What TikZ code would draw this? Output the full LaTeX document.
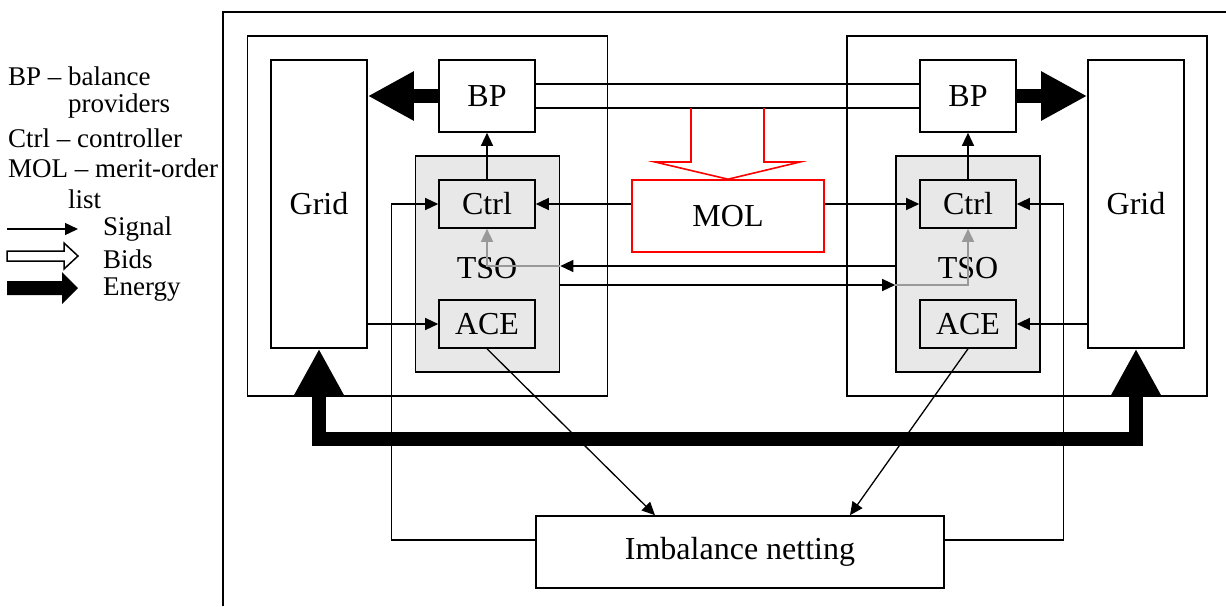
\documentclass[tikz,border=0pt]{standalone}
\usepackage{fontspec}
\setmainfont{Liberation Serif}
\usetikzlibrary{arrows.meta}
\definecolor{tsogray}{HTML}{E8E8E8}
\definecolor{sigGray}{HTML}{999999}
\begin{document}
\begin{tikzpicture}[x=1pt,y=-1pt,
  box/.style={draw, line width=1.6pt, fill=white, inner sep=0pt, font=\fontsize{32}{34}\selectfont},
  region/.style={draw, line width=1.6pt, inner sep=0pt},
  tsobox/.style={draw, line width=1.6pt, fill=tsogray, inner sep=0pt},
  inbox/.style={box, fill=tsogray},
  molbox/.style={box, draw=red},
  lbl/.style={font=\fontsize{32}{34}\selectfont, inner sep=0pt},
  leg/.style={font=\fontsize{27}{29}\selectfont, inner sep=0pt, anchor=west},
  sig/.style={line width=1.3pt, -{Triangle[length=13pt,width=12pt]}},
  graysig/.style={line width=1.5pt, draw=sigGray, -{Triangle[length=13pt,width=12pt,fill=sigGray]}},
  energy/.style={line width=14pt, line join=miter, -{Triangle[length=46pt,width=46pt]}},
  energy2/.style={line width=14pt, line join=miter, {Triangle[length=46pt,width=46pt]}-{Triangle[length=46pt,width=46pt]}},
  bid/.style={line width=1.6pt},
]
\useasboundingbox (0,0) rectangle (1226,606);

% outer frame
\draw[line width=1.6pt] (223,606) -- (223,12) -- (1226,12);

% regions
\node[region, minimum width=360pt, minimum height=360pt] (lreg) at (427.5,216) {};
\node[region, minimum width=360pt, minimum height=360pt] (rreg) at (1027,216) {};

% grids
\node[box, minimum width=96pt, minimum height=288pt] (lgrid) at (319,204) {Grid};
\node[box, minimum width=96pt, minimum height=288pt] (rgrid) at (1136,204) {Grid};

% BPs
\node[box, minimum width=96pt, minimum height=72pt] (lbp) at (487,96) {BP};
\node[box, minimum width=96pt, minimum height=72pt] (rbp) at (968,96) {BP};

% TSOs
\node[tsobox, minimum width=144pt, minimum height=216pt] (ltso) at (487.5,264) {};
\node[tsobox, minimum width=144pt, minimum height=216pt] (rtso) at (968,264) {};
\node[lbl] (ltsol) at (487,268) {TSO};
\node[lbl] (rtsol) at (968,268) {TSO};
\node[inbox, minimum width=96pt, minimum height=48pt] (lctrl) at (487,204) {Ctrl};
\node[inbox, minimum width=96pt, minimum height=48pt] (rctrl) at (968,204) {Ctrl};
\node[inbox, minimum width=96pt, minimum height=48pt] (lace) at (487,324) {ACE};
\node[inbox, minimum width=96pt, minimum height=48pt] (race) at (968,324) {ACE};

% MOL and imbalance netting
\node[molbox, minimum width=192pt, minimum height=72pt] (mol) at (728,216) {MOL};
\node[box, minimum width=408pt, minimum height=72pt] (imb) at (740,552) {Imbalance netting};

% bids between BPs
\draw[bid] ([yshift=12pt]lbp.east) -- ([yshift=12pt]rbp.west);
\draw[bid] ([yshift=-12pt]lbp.east) -- ([yshift=-12pt]rbp.west);
% red bids arrow to MOL
\draw[red, line width=1.6pt, line join=miter] (691,108) -- (691,162) -- (655,162) -- (mol.north) -- (800,162) -- (764,162) -- (764,108);

% energy arrows
\draw[energy] (lbp.west) -- (lbp.west -| lgrid.east);
\draw[energy] (rbp.east) -- (rbp.east -| rgrid.west);
\draw[energy2] (lgrid.south) -- ++(0,90) -| (rgrid.south);

% signals
\draw[sig] (lctrl.north) -- (lbp.south);
\draw[sig] (rctrl.north) -- (rbp.south);
\draw[sig] (mol.west |- lctrl) -- (lctrl.east);
\draw[sig] (mol.east |- rctrl) -- (rctrl.west);
\draw[sig] (lgrid.east |- lace) -- (lace.west);
\draw[sig] (rgrid.west |- race) -- (race.east);
\draw[sig] ([yshift=12pt]imb.west) -| ([xshift=-47pt]lctrl.west) -- (lctrl.west);
\draw[sig] ([yshift=12pt]imb.east) -| ([xshift=47pt]rctrl.east) -- (rctrl.east);
\draw[sig] (lace.south) -- ([xshift=-85pt]imb.north);
\draw[sig] (race.south) -- ([xshift=110pt]imb.north);
\draw[sig] ([yshift=-2pt]rtso.west) -- ([yshift=-2pt]ltso.east);
\draw[graysig] ([yshift=-2pt]ltso.east) -| (lctrl.south);
\draw[sig] ([yshift=-21pt]ltso.east) -- ([yshift=-21pt]rtso.west);
\draw[graysig] ([yshift=-21pt]rtso.west) -| (rctrl.south);

% legend
\node[leg] (l1) at (8,76) {BP – balance};
\node[leg] (l2) at (68,106) {providers};
\node[leg] (l3) at (8,138) {Ctrl – controller};
\node[leg] (l4) at (8,168) {MOL – merit-order};
\node[leg] (l5) at (68,199) {list};
\node[leg] (l6) at (103,229) {Signal};
\node[leg] (l7) at (103,259) {Bids};
\node[leg] (l8) at (103,290) {Energy};
\coordinate (sigA) at (7,229);
\coordinate (sigB) at (78,229);
\draw[sig] (sigA) -- (sigB);
\draw[line width=1.5pt, line join=miter, fill=white] (7,251) -- (64,251) -- (64,243) -- (78,256) -- (64,269) -- (64,261) -- (7,261) -- cycle;
\fill (7,281) -- (62,281) -- (62,272) -- (78,288) -- (62,304) -- (62,295) -- (7,295) -- cycle;
\end{tikzpicture}
\end{document}
